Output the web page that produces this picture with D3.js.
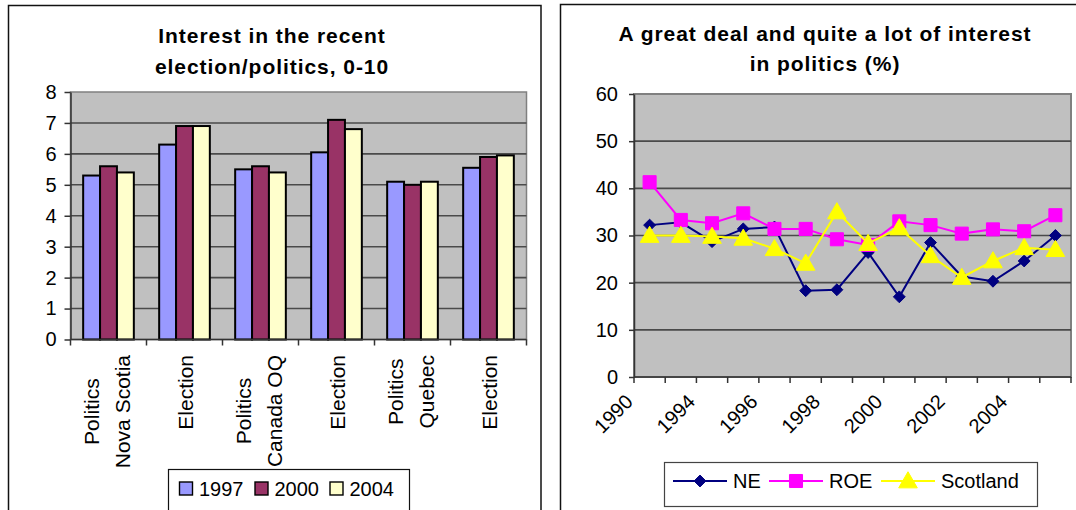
<!DOCTYPE html>
<html>
<head>
<meta charset="utf-8">
<script src="https://cdn.jsdelivr.net/npm/d3@7"></script>
<style>
  body { margin: 0; background: #fff; }
  svg text { font-family: "Liberation Sans", Arial, sans-serif; fill: #000; }
</style>
</head>
<body>
<svg id="chart" width="1076" height="510"></svg>
<script>
// ---- Bar chart data: interest in the recent election/politics, 0-10 ----
const barCategories = ["Politics\nNova Scotia", "Election", "Politics\nCanada OQ", "Election", "Politics\nQuebec", "Election"];
const barSeriesNames = ["1997", "2000", "2004"];
const bar1997 = [5.3, 6.3, 5.5, 6.05, 5.1, 5.55];
const bar2000 = [5.6, 6.9, 5.6, 7.1, 5.0, 5.9];
const bar2004 = [5.4, 6.9, 5.4, 6.8, 5.1, 5.95];
const barTicks = [0, 1, 2, 3, 4, 5, 6, 7, 8];
const barColors = ["#9999FF", "#993366", "#FFFFCC"];

// ---- Line chart data: a great deal / quite a lot of interest in politics (%) ----
const lineYears = ["1990", "1992", "1994", "1995", "1996", "1997", "1998", "1999", "2000", "2001", "2002", "2003", "2004", "2005"];
const lineNE = [32.2, 32.8, 28.7, 31.4, 31.8, 18.3, 18.5, 26.4, 17.0, 28.5, 21.3, 20.3, 24.6, 30.0];
const lineROE = [41.3, 33.3, 32.6, 34.7, 31.4, 31.4, 29.2, 28.0, 33.0, 32.2, 30.4, 31.3, 30.9, 34.3];
const lineScotland = [30.0, 30.0, 29.8, 29.4, 27.2, 24.1, 35.0, 28.3, 31.6, 25.7, 21.1, 24.6, 27.4, 27.0];
const lineSeriesNames = ["NE", "ROE", "Scotland"];
const lineColors = ["#000080", "#FF00FF", "#FFFF00"];
const lineTicks = [0, 10, 20, 30, 40, 50, 60];

const svg = d3.select("#chart");
const PLOT_BG = "#C0C0C0", GRID = "#4a4a4a", AXIS = "#333";

// chart frames
svg.append("rect").attr("x", 8.5).attr("y", 5.5).attr("width", 532.5).attr("height", 530)
  .attr("fill", "#fff").attr("stroke", "#111").attr("stroke-width", 1.5);
svg.append("rect").attr("x", 560.5).attr("y", 4.5).attr("width", 560).attr("height", 530)
  .attr("fill", "#fff").attr("stroke", "#111").attr("stroke-width", 1.5);

function title(lines, cx, ys) {
  lines.forEach((t, i) => {
    svg.append("text").attr("x", cx).attr("y", ys[i]).attr("text-anchor", "middle")
      .attr("font-size", 21).attr("font-weight", "bold").attr("letter-spacing", 0.95).text(t);
  });
}

// =================== Bar chart ===================
{
  const P = { left: 70.5, right: 526.5, bottom: 339.5, top: 92 };
  const barData = [bar1997, bar2000, bar2004];
  const x0 = d3.scaleBand().domain(d3.range(barCategories.length)).range([P.left, P.right]);
  const bw = x0.bandwidth();
  const barW = bw / 4.5;
  const x1 = d3.scaleBand().domain(barSeriesNames).range([barW * 0.75, bw - barW * 0.75]);
  const y = d3.scaleLinear().domain([0, 8]).range([P.bottom, P.top]);

  title(["Interest in the recent", "election/politics, 0-10"], 272, [43, 73.5]);

  svg.append("rect").attr("x", P.left).attr("y", P.top).attr("width", P.right - P.left)
    .attr("height", P.bottom - P.top).attr("fill", PLOT_BG).attr("stroke", "#808080").attr("stroke-width", 1.5);

  svg.append("g").selectAll("line").data(barTicks.filter(t => t > 0 && t < 8)).join("line")
    .attr("x1", P.left).attr("x2", P.right).attr("y1", d => y(d)).attr("y2", d => y(d))
    .attr("stroke", GRID).attr("stroke-width", 1.6);

  const groups = svg.append("g").selectAll("g").data(barCategories.map((c, i) => i)).join("g")
    .attr("transform", i => `translate(${x0(i)},0)`);
  groups.selectAll("rect").data(i => barSeriesNames.map((s, k) => ({ s, k, v: barData[k][i] }))).join("rect")
    .attr("x", d => x1(d.s)).attr("width", x1.bandwidth())
    .attr("y", d => y(d.v)).attr("height", d => y(0) - y(d.v))
    .attr("fill", d => barColors[d.k]).attr("stroke", "#000").attr("stroke-width", 2);

  // y axis
  const ya = svg.append("g").attr("transform", `translate(${P.left},0)`)
    .call(d3.axisLeft(y).tickValues(barTicks).tickSize(6).tickSizeOuter(0).tickPadding(8));
  ya.select(".domain").attr("stroke", AXIS).attr("stroke-width", 1.5);
  ya.selectAll(".tick line").attr("stroke", AXIS).attr("stroke-width", 1.5);
  ya.selectAll(".tick text").attr("font-size", 20).attr("font-family", "Liberation Sans, Arial, sans-serif");

  // x axis line and category boundary ticks
  svg.append("line").attr("x1", P.left).attr("x2", P.right).attr("y1", P.bottom).attr("y2", P.bottom)
    .attr("stroke", AXIS).attr("stroke-width", 1.5);
  const bounds = x0.domain().map(i => x0(i)).concat([P.right]);
  svg.append("g").selectAll("line").data(bounds).join("line")
    .attr("x1", d => d).attr("x2", d => d).attr("y1", P.bottom).attr("y2", P.bottom + 6)
    .attr("stroke", AXIS).attr("stroke-width", 1.5);

  // rotated multi-line category labels
  const lineGap = 31;
  barCategories.forEach((cat, i) => {
    const parts = cat.split("\n");
    const n = parts.length;
    const cx = x0(i) + bw / 2;
    const g = svg.append("g");
    const texts = parts.map(p => g.append("text").attr("font-size", 21).attr("text-anchor", "middle").text(p));
    const maxLen = d3.max(texts, t => t.node().getComputedTextLength());
    const cy = P.bottom + 15.5 + maxLen / 2;
    texts.forEach((t, k) => {
      const bx = cx + 8.5 - 3 * (n - 1) + (k - (n - 1) / 2) * lineGap;
      t.attr("transform", `translate(${bx},${cy}) rotate(-90)`);
    });
  });

  // legend
  const lg = svg.append("g");
  lg.append("rect").attr("x", 168.5).attr("y", 469.5).attr("width", 241).attr("height", 60)
    .attr("fill", "#fff").attr("stroke", "#111").attr("stroke-width", 1.2);
  const legX = [179.5, 255, 330];
  barSeriesNames.forEach((s, k) => {
    lg.append("rect").attr("x", legX[k]).attr("y", 482).attr("width", 13).attr("height", 13)
      .attr("fill", barColors[k]).attr("stroke", "#000").attr("stroke-width", 1.4);
    lg.append("text").attr("x", legX[k] + 19.5).attr("y", 496).attr("font-size", 20).text(s);
  });
}

// =================== Line chart ===================
{
  const P = { left: 634, right: 1071, bottom: 377, top: 94 };
  const x = d3.scaleBand().domain(lineYears).range([P.left, P.right]);
  const bw = x.bandwidth();
  const cx = d => x(d) + bw / 2;
  const y = d3.scaleLinear().domain([0, 60]).range([P.bottom, P.top]);

  title(["A great deal and quite a lot of interest", "in politics (%)"], 825, [40.5, 71]);

  svg.append("rect").attr("x", P.left).attr("y", P.top).attr("width", P.right - P.left)
    .attr("height", P.bottom - P.top).attr("fill", PLOT_BG).attr("stroke", "#808080").attr("stroke-width", 2);

  svg.append("g").selectAll("line").data(lineTicks.filter(t => t > 0 && t < 60)).join("line")
    .attr("x1", P.left).attr("x2", P.right).attr("y1", d => y(d)).attr("y2", d => y(d))
    .attr("stroke", GRID).attr("stroke-width", 1.6);

  const ya = svg.append("g").attr("transform", `translate(${P.left},0)`)
    .call(d3.axisLeft(y).tickValues(lineTicks).tickSize(5).tickSizeOuter(0).tickPadding(11));
  ya.select(".domain").attr("stroke", AXIS).attr("stroke-width", 1.5);
  ya.selectAll(".tick line").attr("stroke", AXIS).attr("stroke-width", 1.5);
  ya.selectAll(".tick text").attr("font-size", 20).attr("font-family", "Liberation Sans, Arial, sans-serif");

  svg.append("line").attr("x1", P.left).attr("x2", P.right).attr("y1", P.bottom).attr("y2", P.bottom)
    .attr("stroke", AXIS).attr("stroke-width", 1.5);
  const bounds = lineYears.map(d => x(d)).concat([P.right]);
  svg.append("g").selectAll("line").data(bounds).join("line")
    .attr("x1", d => d).attr("x2", d => d).attr("y1", P.bottom).attr("y2", P.bottom + 6)
    .attr("stroke", AXIS).attr("stroke-width", 1.5);

  // every other year label, rotated 45 degrees
  svg.append("g").selectAll("text").data(lineYears.filter((d, i) => i % 2 === 0)).join("text")
    .attr("font-size", 20).attr("text-anchor", "end")
    .attr("transform", d => `translate(${x(d)},403) rotate(-45)`).text(d => d);

  const seriesData = [lineNE, lineROE, lineScotland];
  const symbols = [d3.symbolDiamond2, d3.symbolSquare, d3.symbolTriangle];
  const symSizes = [90, 170, 150];
  const line = d3.line().x((v, i) => cx(lineYears[i])).y(v => y(v));

  seriesData.forEach((vals, k) => {
    const g = svg.append("g");
    g.append("path").attr("d", line(vals)).attr("fill", "none")
      .attr("stroke", lineColors[k]).attr("stroke-width", 2);
    g.selectAll("path.m").data(vals).join("path").attr("class", "m")
      .attr("transform", (v, i) => `translate(${cx(lineYears[i])},${y(v) + (k === 2 ? 1.5 : 0)})`)
      .attr("d", d3.symbol(symbols[k], symSizes[k]))
      .attr("fill", lineColors[k]).attr("stroke", lineColors[k]).attr("stroke-width", 1);
  });

  // legend
  const lg = svg.append("g");
  lg.append("rect").attr("x", 664.5).attr("y", 462.5).attr("width", 373).attr("height", 44)
    .attr("fill", "#fff").attr("stroke", "#444").attr("stroke-width", 1.2);
  const legLineX = [673, 769, 881];
  lineSeriesNames.forEach((s, k) => {
    const lx = legLineX[k];
    lg.append("line").attr("x1", lx).attr("x2", lx + 54).attr("y1", 481).attr("y2", 481)
      .attr("stroke", lineColors[k]).attr("stroke-width", 2);
    lg.append("path").attr("transform", `translate(${lx + 27},${481 + (k === 2 ? 1.5 : 0)})`)
      .attr("d", d3.symbol(symbols[k], symSizes[k]))
      .attr("fill", lineColors[k]).attr("stroke", lineColors[k]).attr("stroke-width", 1);
    lg.append("text").attr("x", lx + 60).attr("y", 488).attr("font-size", 20).text(s);
  });
}
</script>
</body>
</html>
